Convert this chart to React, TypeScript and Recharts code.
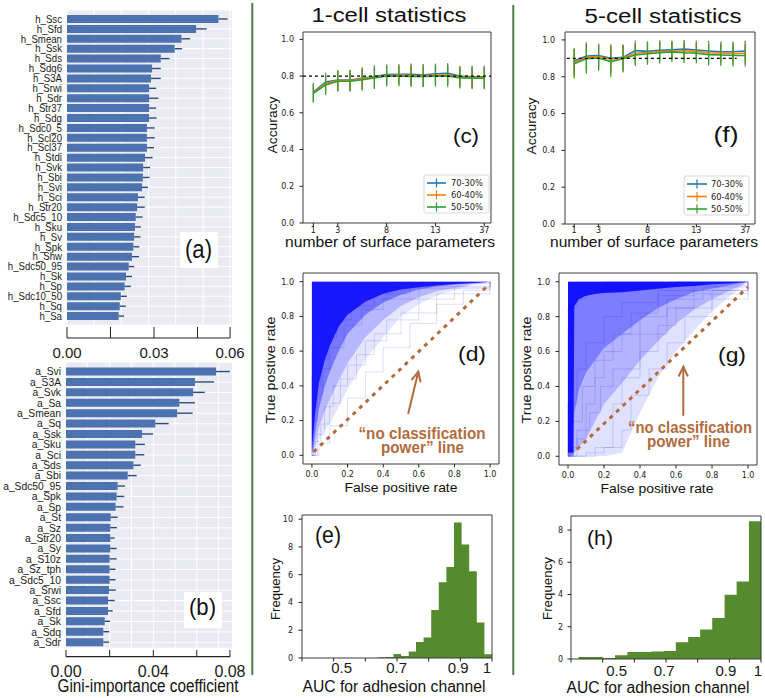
import React from 'react';
import {
  BarChart, Bar, XAxis, YAxis, CartesianGrid, ErrorBar, ComposedChart, Line, Area,
  ReferenceLine, ReferenceArea,
} from 'recharts';

// ---------------- (a) height-channel Gini importance ----------------
const hNames = ['h_Ssc', 'h_Sfd', 'h_Smean', 'h_Ssk', 'h_Sds', 'h_Sdq6', 'h_S3A', 'h_Srwi', 'h_Sdr', 'h_Str37', 'h_Sdg', 'h_Sdc0_5', 'h_Scl20', 'h_Scl37', 'h_Stdi', 'h_Svk', 'h_Sbi', 'h_Svi', 'h_Sci', 'h_Str20', 'h_Sdc5_10', 'h_Sku', 'h_Sv', 'h_Spk', 'h_Shw', 'h_Sdc50_95', 'h_Sk', 'h_Sp', 'h_Sdc10_50', 'h_Sq', 'h_Sa'];
const hGini = [0.0557, 0.0475, 0.0421, 0.0396, 0.0345, 0.0313, 0.0309, 0.0302, 0.0302, 0.0302, 0.0302, 0.0294, 0.0294, 0.0294, 0.0287, 0.028, 0.0279, 0.0276, 0.0261, 0.0258, 0.0253, 0.025, 0.0247, 0.0244, 0.0239, 0.0227, 0.0217, 0.0212, 0.0198, 0.0194, 0.019];
const hErr = [0.0034, 0.0039, 0.0032, 0.0027, 0.0032, 0.0032, 0.0036, 0.0026, 0.0034, 0.0026, 0.0028, 0.0029, 0.0029, 0.0026, 0.0028, 0.0026, 0.0025, 0.0022, 0.0025, 0.0028, 0.0025, 0.0022, 0.0023, 0.0022, 0.0026, 0.002, 0.0022, 0.0023, 0.0022, 0.0022, 0.002];
const giniTicksA = [0, 0.016, 0.032, 0.048, 0.06];
const giniLabelsA = ['0.00', '', '0.03', '', '0.06'];
const gridA = [0, 0.01, 0.02, 0.03, 0.04, 0.05, 0.06];

// ---------------- (b) adhesion-channel Gini importance ----------------
const aNames = ['a_Svi', 'a_S3A', 'a_Svk', 'a_Sa', 'a_Smean', 'a_Sq', 'a_Ssk', 'a_Sku', 'a_Sci', 'a_Sds', 'a_Sbi', 'a_Sdc50_95', 'a_Spk', 'a_Sp', 'a_St', 'a_Sz', 'a_Str20', 'a_Sy', 'a_S10z', 'a_Sz_tph', 'a_Sdc5_10', 'a_Srwi', 'a_Ssc', 'a_Sfd', 'a_Sk', 'a_Sdq', 'a_Sdr'];
const aGini = [0.0732, 0.0629, 0.062, 0.0553, 0.0542, 0.0436, 0.0371, 0.0338, 0.0338, 0.0329, 0.0301, 0.0252, 0.0247, 0.0242, 0.0218, 0.0216, 0.0216, 0.0216, 0.0213, 0.0213, 0.0213, 0.021, 0.0205, 0.0205, 0.0189, 0.0182, 0.0182];
const aErr = [0.0068, 0.0093, 0.0057, 0.0076, 0.0076, 0.0065, 0.0054, 0.0047, 0.0044, 0.0036, 0.0044, 0.0036, 0.0037, 0.0039, 0.0034, 0.0033, 0.0021, 0.0031, 0.0034, 0.0029, 0.0029, 0.0033, 0.0033, 0.0023, 0.0026, 0.0029, 0.0029];
const giniTicksB = [0, 0.0213, 0.0426, 0.0638, 0.08];
const giniLabelsB = ['0.00', '', '0.04', '', '0.08'];
const gridB = [0, 0.0106, 0.0213, 0.0319, 0.0426, 0.0532, 0.0638, 0.0745];

// ---------------- (c)/(f) accuracy vs number of parameters ----------------
const paramIdx = [0, 1, 2, 3, 4, 5, 6, 7, 8, 9, 10, 11, 12, 13, 14];
const paramTickIdx = [0, 2, 6, 10, 14];
const paramTickLabels = ['1', '3', '8', '13', '37'];
const accTicks = [0, 0.2, 0.4, 0.6, 0.8, 1.0];
const accSeriesNames = ['70-30%', '60-40%', '50-50%'];
const accColors = ['#1f77b4', '#ff7f0e', '#2ca02c'];

const acc1_7030 = [0.713, 0.768, 0.778, 0.779, 0.788, 0.798, 0.808, 0.809, 0.809, 0.806, 0.813, 0.815, 0.8, 0.796, 0.796];
const acc1_6040 = [0.708, 0.76, 0.775, 0.775, 0.785, 0.795, 0.803, 0.806, 0.803, 0.802, 0.805, 0.806, 0.795, 0.792, 0.792];
const acc1_5050 = [0.706, 0.752, 0.772, 0.772, 0.78, 0.79, 0.8, 0.8, 0.798, 0.798, 0.8, 0.8, 0.79, 0.788, 0.788];
const err1_7030 = [0.05, 0.05, 0.055, 0.055, 0.06, 0.06, 0.055, 0.055, 0.06, 0.06, 0.055, 0.055, 0.055, 0.06, 0.06];
const err1_6040 = [0.05, 0.052, 0.055, 0.056, 0.058, 0.058, 0.055, 0.056, 0.058, 0.058, 0.056, 0.056, 0.057, 0.058, 0.058];
const err1_5050 = [0.05, 0.055, 0.057, 0.058, 0.058, 0.06, 0.057, 0.055, 0.057, 0.058, 0.057, 0.058, 0.058, 0.06, 0.06];

const acc5_7030 = [0.885, 0.912, 0.915, 0.9, 0.905, 0.942, 0.938, 0.943, 0.946, 0.95, 0.945, 0.94, 0.936, 0.936, 0.94];
const acc5_6040 = [0.877, 0.905, 0.91, 0.895, 0.902, 0.928, 0.932, 0.937, 0.94, 0.94, 0.938, 0.93, 0.928, 0.925, 0.928];
const acc5_5050 = [0.87, 0.898, 0.902, 0.882, 0.898, 0.918, 0.925, 0.93, 0.935, 0.93, 0.928, 0.92, 0.918, 0.915, 0.915];
const err5_7030 = [0.07, 0.075, 0.065, 0.075, 0.07, 0.055, 0.055, 0.055, 0.05, 0.05, 0.05, 0.055, 0.055, 0.055, 0.055];
const err5_6040 = [0.075, 0.078, 0.068, 0.08, 0.072, 0.058, 0.058, 0.056, 0.052, 0.052, 0.053, 0.056, 0.058, 0.058, 0.058];
const err5_5050 = [0.08, 0.08, 0.07, 0.085, 0.075, 0.06, 0.06, 0.058, 0.055, 0.055, 0.055, 0.058, 0.06, 0.06, 0.06];

// ---------------- (d)/(g) ROC clouds (density bands: lower tpr edge per fpr) ----------------
const rocTicks = [0, 0.2, 0.4, 0.6, 0.8, 1.0];
const rocGridD = [0, 0.005, 0.01, 0.02, 0.04, 0.07, 0.1, 0.15, 0.2, 0.3, 0.4, 0.5, 0.6, 0.7, 0.8, 0.9, 1.0];
const rocDenseD = [0.03, 0.1, 0.15, 0.26, 0.42, 0.54, 0.63, 0.74, 0.81, 0.885, 0.93, 0.955, 0.968, 0.978, 0.987, 0.993, 1.0];
const rocMidD = [0.01, 0.04, 0.07, 0.14, 0.27, 0.39, 0.48, 0.6, 0.7, 0.81, 0.88, 0.925, 0.955, 0.972, 0.982, 0.992, 1.0];
const rocSoftD = [0.005, 0.02, 0.04, 0.08, 0.16, 0.25, 0.32, 0.43, 0.53, 0.68, 0.78, 0.86, 0.91, 0.945, 0.965, 0.985, 1.0];
const rocLightD = [0, 0.01, 0.02, 0.05, 0.09, 0.14, 0.18, 0.28, 0.38, 0.55, 0.68, 0.8, 0.87, 0.92, 0.95, 0.98, 1.0];
const rocCurvesD = [
  [[0, 0], [0, 0.45], [0.01, 0.6], [0.02, 0.7], [0.04, 0.8], [0.08, 0.88], [0.15, 0.94], [0.3, 0.97], [0.5, 0.99], [1, 1]],
  [[0, 0], [0.01, 0.2], [0.03, 0.35], [0.06, 0.5], [0.1, 0.62], [0.18, 0.75], [0.28, 0.84], [0.4, 0.9], [0.6, 0.96], [1, 1]],
  [[0, 0], [0.02, 0.08], [0.05, 0.18], [0.1, 0.3], [0.16, 0.44], [0.25, 0.58], [0.35, 0.7], [0.5, 0.82], [0.7, 0.93], [1, 1]],
  [[0, 0], [0.04, 0.07], [0.1, 0.17], [0.2, 0.33], [0.3, 0.48], [0.4, 0.62], [0.55, 0.76], [0.7, 0.87], [0.85, 0.95], [1, 1]],
  [[0, 0], [0, 0.6], [0.005, 0.7], [0.01, 0.78], [0.03, 0.86], [0.06, 0.92], [0.12, 0.96], [0.25, 0.98], [0.45, 0.995], [1, 1]],
  [[0, 0], [0.01, 0.25], [0.02, 0.4], [0.05, 0.55], [0.09, 0.68], [0.14, 0.78], [0.22, 0.86], [0.35, 0.93], [0.55, 0.97], [1, 1]],
  [[0, 0], [0.03, 0.12], [0.07, 0.28], [0.12, 0.4], [0.2, 0.52], [0.3, 0.66], [0.42, 0.78], [0.6, 0.9], [0.8, 0.97], [1, 1]],
];
const rocGridG = [0, 0.01, 0.03, 0.035, 0.06, 0.1, 0.15, 0.2, 0.3, 0.4, 0.5, 0.6, 0.7, 0.8, 0.9, 1.0];
const rocDenseG = [0.02, 0.02, 0.02, 0.86, 0.9, 0.92, 0.93, 0.935, 0.94, 0.95, 0.96, 0.97, 0.975, 0.985, 0.99, 1.0];
const rocMidG = [0, 0, 0.01, 0.25, 0.38, 0.48, 0.55, 0.62, 0.7, 0.78, 0.85, 0.9, 0.94, 0.96, 0.98, 1.0];
const rocSoftG = [0, 0, 0, 0.02, 0.05, 0.1, 0.2, 0.3, 0.42, 0.55, 0.66, 0.76, 0.84, 0.9, 0.95, 1.0];
const rocLightG = [0, 0, 0, 0, 0, 0, 0, 0, 0.02, 0.25, 0.45, 0.6, 0.72, 0.83, 0.92, 1.0];
const rocCurvesG = [
  [[0, 0], [0, 0.7], [0.02, 0.85], [0.05, 0.9], [0.1, 0.95], [0.3, 0.98], [0.6, 1], [1, 1]],
  [[0, 0], [0.05, 0.1], [0.1, 0.3], [0.15, 0.45], [0.2, 0.6], [0.3, 0.7], [0.4, 0.8], [0.55, 0.9], [0.75, 0.97], [1, 1]],
  [[0, 0], [0.1, 0.02], [0.2, 0.05], [0.3, 0.15], [0.35, 0.35], [0.45, 0.5], [0.55, 0.65], [0.65, 0.8], [0.8, 0.9], [1, 1]],
  [[0, 0], [0, 0.3], [0.05, 0.5], [0.1, 0.65], [0.2, 0.8], [0.3, 0.88], [0.5, 0.95], [1, 1]],
  [[0, 0], [0.02, 0.2], [0.08, 0.4], [0.15, 0.55], [0.25, 0.7], [0.35, 0.82], [0.5, 0.92], [0.7, 0.98], [1, 1]],
  [[0, 0], [0.15, 0.05], [0.25, 0.3], [0.3, 0.45], [0.4, 0.6], [0.5, 0.75], [0.6, 0.85], [0.8, 0.95], [1, 1]],
  [[0, 0], [0, 0.85], [0.01, 0.95], [0.05, 0.98], [0.2, 1], [1, 1]],
  [[0, 0], [0.03, 0.05], [0.05, 0.15], [0.12, 0.25], [0.18, 0.4], [0.25, 0.5], [0.4, 0.7], [0.55, 0.85], [0.7, 0.93], [1, 1]],
];

// ---------------- (e)/(h) AUC histograms ----------------
const histTickMarks = [0.4, 0.5, 0.6, 0.7, 0.8, 0.9, 1.0];
const aucLabels = ['0.5', '0.7', '0.9', '1'];
const eLabelPos = [0.525, 0.699, 0.893, 0.984];
const hLabelPos = [0.544, 0.694, 0.889, 0.99];
const aucEdges1 = [0.641, 0.665, 0.689, 0.713, 0.737, 0.76, 0.784, 0.808, 0.832, 0.856, 0.88, 0.904, 0.928, 0.952, 0.976, 1.0];
const aucFreq1 = [0.05, 0.07, 0.29, 0.14, 0.46, 1.16, 1.47, 3.45, 5.45, 6.55, 9.76, 8.17, 6.24, 2.55, 0.27];
const aucEdges5 = [0.424, 0.462, 0.501, 0.539, 0.578, 0.616, 0.654, 0.693, 0.731, 0.77, 0.808, 0.846, 0.885, 0.923, 0.962, 1.0];
const aucFreq5 = [0.12, 0.12, 0.06, 0.23, 0.44, 0.44, 0.46, 0.5, 1.04, 1.37, 1.83, 2.54, 3.99, 4.8, 8.55];
const freqTicks1 = [0, 2, 4, 6, 8, 10];
const freqTicks5 = [0, 2, 4, 6, 8];

// ---------------- styling ----------------
const FONT = "'Liberation Sans', Arial, Helvetica, sans-serif";
const TFONT = "'DejaVu Sans', Verdana, sans-serif";
const BAR = '#4c72b0';
const ERRC = '#2e4a7d';
const ROCBLUE = '#0000ff';
const HISTGREEN = '#558a2d';
const ANNO = '#b26b3d';
const SEP = '#4e7f48';
const FRAME = '#3a3a3a';

type TickCfg = {
  side: 'b' | 'l';
  marks: any[] | null;
  labelOf: (v: any) => string | null;
  markFrom: number;
  markLen: number;
  off: number;
  size: number;
  family: string;
  sx?: number;
};

function makeTick(c: TickCfg) {
  return function TickEl(p: any) {
    const x = Number(p.x);
    const y = Number(p.y);
    const v = p.payload ? p.payload.value : undefined;
    const lab = c.labelOf(v);
    const hasMark = c.marks ? c.marks.some((m) => Math.abs(Number(m) - Number(v)) < 1e-9) : false;
    if (c.side === 'b') {
      return (
        <g>
          {hasMark && <line x1={x} x2={x} y1={y + c.markFrom} y2={y + c.markFrom + c.markLen} stroke="#222" strokeWidth={1} />}
          {lab ? (
            <text x={x} y={y + c.off} textAnchor="middle" fontSize={c.size} fontFamily={c.family} fill="#1a1a1a">{lab}</text>
          ) : null}
        </g>
      );
    }
    return (
      <g>
        {hasMark && <line x1={x - c.markLen} x2={x} y1={y} y2={y} stroke="#222" strokeWidth={1} />}
        {lab ? (
          <text transform={`translate(${x - c.off},${y + c.size * 0.36}) scale(${c.sx || 1},1)`} x={0} y={0} textAnchor="end" fontSize={c.size} fontFamily={c.family} fill="#1a1a1a">{lab}</text>
        ) : null}
      </g>
    );
  };
}

const idxLabel = (arr: number[], labels: string[]) => (v: any) => {
  const k = arr.findIndex((a) => Math.abs(a - Number(v)) < 1e-9);
  return k >= 0 && labels[k] ? labels[k] : null;
};
const fix1 = (v: any) => Number(v).toFixed(1);
const intLab = (v: any) => String(Math.round(Number(v)));

const tickAX = makeTick({ side: 'b', marks: giniTicksA, labelOf: idxLabel(giniTicksA, giniLabelsA), markFrom: 2, markLen: 11, off: 33, size: 15, family: FONT });
const tickAY = makeTick({ side: 'l', marks: null, labelOf: (v) => String(v), markFrom: 0, markLen: 0, off: 5, size: 10.5, family: FONT, sx: 0.92 });
const tickBX = makeTick({ side: 'b', marks: giniTicksB, labelOf: idxLabel(giniTicksB, giniLabelsB), markFrom: 2, markLen: 6.7, off: 29, size: 16, family: FONT });
const tickBY = makeTick({ side: 'l', marks: null, labelOf: (v) => String(v), markFrom: 0, markLen: 0, off: 5, size: 10.3, family: FONT });

const tickCX = makeTick({ side: 'b', marks: paramTickIdx, labelOf: idxLabel(paramTickIdx, paramTickLabels), markFrom: 0, markLen: 3.5, off: 9.5, size: 8, family: TFONT });
const tickFX = makeTick({ side: 'b', marks: paramTickIdx, labelOf: idxLabel(paramTickIdx, paramTickLabels), markFrom: 0, markLen: 3.5, off: 9, size: 8, family: TFONT });
const tickCY = makeTick({ side: 'l', marks: accTicks, labelOf: fix1, markFrom: 0, markLen: 3.5, off: 9, size: 8, family: TFONT });
const tickFY = makeTick({ side: 'l', marks: accTicks, labelOf: fix1, markFrom: 0, markLen: 3.5, off: 10, size: 8, family: TFONT });

const tickRX = makeTick({ side: 'b', marks: rocTicks, labelOf: fix1, markFrom: 0, markLen: 3.5, off: 13, size: 8, family: TFONT });
const tickRY = makeTick({ side: 'l', marks: rocTicks, labelOf: fix1, markFrom: 0, markLen: 3.5, off: 9, size: 8, family: TFONT });

const tickEX = makeTick({ side: 'b', marks: histTickMarks, labelOf: idxLabel(eLabelPos, aucLabels), markFrom: 0, markLen: 3.5, off: 15, size: 15, family: FONT });
const tickHX = makeTick({ side: 'b', marks: histTickMarks, labelOf: idxLabel(hLabelPos, aucLabels), markFrom: 0, markLen: 3.5, off: 17, size: 15, family: FONT });
const tickEY = makeTick({ side: 'l', marks: freqTicks1, labelOf: intLab, markFrom: 0, markLen: 3.5, off: 9, size: 8, family: TFONT });
const tickHY = makeTick({ side: 'l', marks: freqTicks5, labelOf: intLab, markFrom: 0, markLen: 3.5, off: 8, size: 8, family: TFONT });

const noLine = { axisLine: false, tickLine: false, tickSize: 0, tickMargin: 0, interval: 0 as const };

type TProps = { x: number; y: number; s: number; w?: number; a?: 'start' | 'middle' | 'end'; b?: boolean; c?: string; r?: boolean; children: any };
const T = (p: TProps) => (
  <text
    x={p.x}
    y={p.y}
    fontSize={p.s}
    textAnchor={p.a || 'middle'}
    fontWeight={p.b ? 700 : 400}
    fill={p.c || '#111'}
    fontFamily={FONT}
    textLength={p.w}
    lengthAdjust={p.w ? 'spacingAndGlyphs' : undefined}
    transform={p.r ? `rotate(-90 ${p.x} ${p.y})` : undefined}
  >
    {p.children}
  </text>
);

function Arrow({ x1, y1, x2, y2 }: { x1: number; y1: number; x2: number; y2: number }) {
  const ang = Math.atan2(y2 - y1, x2 - x1);
  const L = 10;
  const a1 = ang + Math.PI - 0.45;
  const a2 = ang + Math.PI + 0.45;
  return (
    <g stroke={ANNO} strokeWidth={2} fill="none" strokeLinecap="round">
      <line x1={x1} y1={y1} x2={x2} y2={y2} />
      <polyline points={`${x2 + L * Math.cos(a1)},${y2 + L * Math.sin(a1)} ${x2},${y2} ${x2 + L * Math.cos(a2)},${y2 + L * Math.sin(a2)}`} />
    </g>
  );
}

function LegendBox({ x, y, w, h, rows, lx1, lx2, tx }: { x: number; y: number; w: number; h: number; rows: number[]; lx1: number; lx2: number; tx: number }) {
  return (
    <g>
      <rect x={x} y={y} width={w} height={h} rx={2} fill="#fff" fillOpacity={0.85} stroke="#cfcfcf" strokeWidth={0.8} />
      {accSeriesNames.map((n, k) => (
        <g key={n}>
          <line x1={lx1} x2={lx2} y1={rows[k]} y2={rows[k]} stroke={accColors[k]} strokeWidth={1.6} />
          <line x1={(lx1 + lx2) / 2} x2={(lx1 + lx2) / 2} y1={rows[k] - 4.5} y2={rows[k] + 4.5} stroke={accColors[k]} strokeWidth={1.2} />
          <text x={tx} y={rows[k] + 3} fontSize={8.3} fontFamily={TFONT} fill="#222">{n}</text>
        </g>
      ))}
    </g>
  );
}

function AccChart({ rows, domainX, dashSeg, tickX, tickY, width, margin, yWidth, xHeight }: any) {
  const dom: [number, number] = domainX;
  return (
    <ComposedChart width={width} height={250} data={rows} margin={margin}>
      <XAxis dataKey="i" type="number" domain={dom} ticks={paramTickIdx} height={xHeight} {...noLine} tick={tickX} allowDataOverflow />
      <YAxis type="number" domain={[0, rows.yMax]} ticks={accTicks} width={yWidth} {...noLine} tick={tickY} allowDataOverflow />
      <ReferenceArea x1={dom[0]} x2={dom[1]} y1={0} y2={rows.yMax} fill="none" stroke={FRAME} strokeWidth={1} ifOverflow="visible" />
      {[0, 1, 2].map((k) => (
        <Line key={k} type="linear" dataKey={`s${k}`} stroke={accColors[k]} strokeWidth={1.6} dot={false} isAnimationActive={false}>
          <ErrorBar dataKey={`e${k}`} direction="y" width={0} stroke={accColors[k]} strokeWidth={1.2} isAnimationActive={false} />
        </Line>
      ))}
      <ReferenceLine segment={dashSeg} stroke="#000" strokeWidth={1.3} strokeDasharray="3 3" ifOverflow="visible" />
    </ComposedChart>
  );
}

function RocChart({ grid, dense, mid, soft, light, curves, width, margin, yWidth, xHeight, diag, op }: any) {
  const rows = grid.map((x: number, k: number) => ({ fpr: x, d: [dense[k], 1], m: [mid[k], 1], s: [soft[k], 1], l: [light[k], 1] }));
  return (
    <ComposedChart width={width} height={225} data={rows} margin={margin}>
      <XAxis dataKey="fpr" type="number" domain={[-0.05, 1.05]} ticks={rocTicks} height={xHeight} {...noLine} tick={tickRX} allowDataOverflow />
      <YAxis type="number" domain={[-0.05, 1.05]} ticks={rocTicks} width={yWidth} {...noLine} tick={tickRY} allowDataOverflow />
      <Area type="linear" dataKey="l" stroke="none" fill={ROCBLUE} fillOpacity={op[0]} isAnimationActive={false} />
      <Area type="linear" dataKey="s" stroke="none" fill={ROCBLUE} fillOpacity={op[1]} isAnimationActive={false} />
      <Area type="linear" dataKey="m" stroke="none" fill={ROCBLUE} fillOpacity={op[2]} isAnimationActive={false} />
      <Area type="linear" dataKey="d" stroke="none" fill={ROCBLUE} fillOpacity={op[3]} isAnimationActive={false} />
      {curves.map((c: number[][], k: number) => (
        <Line key={k} data={c.map((p) => ({ fpr: p[0], tpr: p[1] }))} dataKey="tpr" type="stepAfter" stroke={ROCBLUE} strokeOpacity={0.2} strokeWidth={0.7} dot={false} isAnimationActive={false} />
      ))}
      <ReferenceLine segment={diag} stroke={ANNO} strokeWidth={3} strokeDasharray="4 5" ifOverflow="visible" />
      <ReferenceArea x1={-0.05} x2={1.05} y1={-0.05} y2={1.05} fill="none" stroke={FRAME} strokeWidth={1} ifOverflow="visible" />
    </ComposedChart>
  );
}

function HistChart({ edges, freq, yMax, yTicks, tickX, tickY, width, margin, yWidth, xHeight, labelPos }: any) {
  const rows = edges.map((x: number, k: number) => ({ x, f: k < freq.length ? freq[k] : freq[freq.length - 1] }));
  const ticks = [...histTickMarks, ...labelPos];
  return (
    <ComposedChart width={width} height={198} data={rows} margin={margin}>
      <XAxis dataKey="x" type="number" domain={[0.4, 1.0]} ticks={ticks} height={xHeight} {...noLine} tick={tickX} allowDataOverflow />
      <YAxis type="number" domain={[0, yMax]} ticks={yTicks} width={yWidth} {...noLine} tick={tickY} allowDataOverflow />
      <Area type="stepAfter" dataKey="f" stroke="none" fill={HISTGREEN} fillOpacity={1} isAnimationActive={false} />
      <ReferenceArea x1={0.4} x2={1.0} y1={0} y2={yMax} fill="none" stroke={FRAME} strokeWidth={1} ifOverflow="visible" />
    </ComposedChart>
  );
}

export default function App() {
  const rowsA = hNames.map((n, i) => ({ name: n, v: hGini[i], e: [0, hErr[i]] }));
  const rowsB = aNames.map((n, i) => ({ name: n, v: aGini[i], e: [0, aErr[i]] }));
  const rowsC: any = paramIdx.map((i, k) => ({
    i, s0: acc1_7030[k], s1: acc1_6040[k], s2: acc1_5050[k], e0: err1_7030[k], e1: err1_6040[k], e2: err1_5050[k],
  }));
  rowsC.yMax = 1.04;
  const rowsF: any = paramIdx.map((i, k) => ({
    i, s0: acc5_7030[k], s1: acc5_6040[k], s2: acc5_5050[k], e0: err5_7030[k], e1: err5_6040[k], e2: err5_5050[k],
  }));
  rowsF.yMax = 1.043;

  return (
    <div style={{ position: 'absolute', left: 0, top: 0, width: 765, height: 698, background: '#fff', overflow: 'hidden' }}>
      {/* (a) */}
      <div style={{ position: 'absolute', left: 0, top: 0 }}>
        <BarChart width={250} height={360} layout="vertical" data={rowsA} margin={{ top: 10, right: 18, left: 0, bottom: 0 }}>
          <CartesianGrid fill="#eaeaf2" stroke="#ffffff" strokeWidth={1} verticalValues={gridA} />
          <XAxis type="number" domain={[0, 0.0607]} ticks={giniTicksA} height={35} {...noLine} tick={tickAX} allowDataOverflow />
          <YAxis type="category" dataKey="name" width={67} {...noLine} tick={tickAY} padding={{ top: 4, bottom: 4 }} />
          <Bar dataKey="v" fill={BAR} isAnimationActive={false}>
            <ErrorBar dataKey="e" direction="x" width={0} stroke={ERRC} strokeWidth={1.4} isAnimationActive={false} />
          </Bar>
        </BarChart>
      </div>
      {/* (b) */}
      <div style={{ position: 'absolute', left: 0, top: 330 }}>
        <BarChart width={250} height={368} layout="vertical" data={rowsB} margin={{ top: 32, right: 18, left: 0, bottom: 0 }}>
          <CartesianGrid fill="#eaeaf2" stroke="#ffffff" strokeWidth={1} verticalValues={gridB} />
          <XAxis type="number" domain={[0, 0.081]} ticks={giniTicksB} height={50} {...noLine} tick={tickBX} allowDataOverflow />
          <YAxis type="category" dataKey="name" width={66} {...noLine} tick={tickBY} padding={{ top: 4.5, bottom: 0.5 }} />
          <Bar dataKey="v" fill={BAR} isAnimationActive={false}>
            <ErrorBar dataKey="e" direction="x" width={0} stroke={ERRC} strokeWidth={1.4} isAnimationActive={false} />
          </Bar>
        </BarChart>
      </div>
      {/* (c) */}
      <div style={{ position: 'absolute', left: 260, top: 0 }}>
        <AccChart rows={rowsC} domainX={[-0.85, 14.55]} dashSeg={[{ x: -0.85, y: 0.8 }, { x: 14.55, y: 0.8 }]} tickX={tickCX} tickY={tickCY}
          width={240} margin={{ top: 32, right: 9, left: 0, bottom: 0 }} yWidth={43} xHeight={27} />
      </div>
      {/* (f) */}
      <div style={{ position: 'absolute', left: 520, top: 0 }}>
        <AccChart rows={rowsF} domainX={[-0.75, 14.8]} dashSeg={[{ x: -0.6, y: 0.9 }, { x: 13.3, y: 0.9 }]} tickX={tickFX} tickY={tickFY}
          width={245} margin={{ top: 32, right: 10, left: 0, bottom: 0 }} yWidth={45} xHeight={26} />
      </div>
      {/* (d) */}
      <div style={{ position: 'absolute', left: 260, top: 260 }}>
        <RocChart grid={rocGridD} dense={rocDenseD} mid={rocMidD} soft={rocSoftD} light={rocLightD} curves={rocCurvesD}
          width={245} margin={{ top: 13, right: 6, left: 0, bottom: 0 }} yWidth={43} xHeight={21}
          diag={[{ x: 0.01, y: 0.02 }, { x: 0.985, y: 0.975 }]} op={[0.1, 0.2, 0.35, 0.8]} />
      </div>
      {/* (g) */}
      <div style={{ position: 'absolute', left: 520, top: 260 }}>
        <RocChart grid={rocGridG} dense={rocDenseG} mid={rocMidG} soft={rocSoftG} light={rocLightG} curves={rocCurvesG}
          width={245} margin={{ top: 13, right: 8, left: 0, bottom: 0 }} yWidth={39} xHeight={20}
          diag={[{ x: 0.05, y: 0.04 }, { x: 1.0, y: 0.97 }]} op={[0.12, 0.2, 0.3, 0.85]} />
      </div>
      {/* (e) */}
      <div style={{ position: 'absolute', left: 260, top: 500 }}>
        <HistChart edges={aucEdges1} freq={aucFreq1} yMax={10.3} yTicks={freqTicks1} tickX={tickEX} tickY={tickEY}
          width={240} margin={{ top: 15, right: 8, left: 0, bottom: 0 }} yWidth={42} xHeight={40} labelPos={eLabelPos} />
      </div>
      {/* (h) */}
      <div style={{ position: 'absolute', left: 520, top: 500 }}>
        <HistChart edges={aucEdges5} freq={aucFreq5} yMax={8.87} yTicks={freqTicks5} tickX={tickHX} tickY={tickHY}
          width={245} margin={{ top: 16, right: 4, left: 0, bottom: 0 }} yWidth={51} xHeight={39} labelPos={hLabelPos} />
      </div>

      {/* overlay: separators, titles, labels, annotations */}
      <svg width={765} height={698} style={{ position: 'absolute', left: 0, top: 0, pointerEvents: 'none' }}>
        <line x1={252.3} y1={3} x2={252.3} y2={675} stroke={SEP} strokeWidth={2} />
        <line x1={513.3} y1={5} x2={513.3} y2={675} stroke={SEP} strokeWidth={2} />

        {/* (a)/(b) axis lines */}
        <line x1={67} y1={338} x2={230} y2={338} stroke="#222" strokeWidth={1.2} />
        <line x1={66} y1={656.7} x2={230} y2={656.7} stroke="#222" strokeWidth={1.2} />
        <rect x={180} y={232} width={38} height={36} fill="#fff" />
        <T x={198.5} y={257.5} s={26} w={27}>(a)</T>
        <rect x={184} y={592} width={38} height={36} fill="#fff" />
        <T x={202.5} y={615} s={24.5} w={27}>(b)</T>
        <T x={148} y={692} s={18} w={181}>Gini-importance coefficient</T>

        {/* titles */}
        <T x={389} y={22} s={20} w={155}>1-cell statistics</T>
        <T x={663} y={23} s={20} w={157}>5-cell statistics</T>

        {/* (c) / (f) */}
        <T x={277} y={125} s={12.5} w={57} r>Accuracy</T>
        <T x={536} y={126} s={12.5} w={57} r>Accuracy</T>
        <T x={390} y={246.5} s={14.5} w={210}>number of surface parameters</T>
        <T x={654} y={246.5} s={14.5} w={208}>number of surface parameters</T>
        <T x={466} y={142.5} s={20} w={26}>(c)</T>
        <T x={726} y={142} s={22} w={25}>(f)</T>
        <LegendBox x={424} y={175} w={65} h={38} rows={[183, 195, 207]} lx1={427} lx2={446} tx={451} />
        <LegendBox x={684} y={176} w={65} h={39} rows={[184, 196.5, 209]} lx1={687} lx2={707} tx={711} />

        {/* (d) / (g) */}
        <T x={275} y={370} s={13.5} w={107} r>True postive rate</T>
        <T x={531} y={370} s={13.5} w={107} r>True postive rate</T>
        <T x={401} y={492} s={13.5} w={113}>False positive rate</T>
        <T x={657} y={493} s={13.5} w={113}>False positive rate</T>
        <T x={472} y={361} s={21} w={28}>(d)</T>
        <T x={732} y={362} s={21} w={28}>(g)</T>
        <T x={422} y={439} s={17} w={127} b c={ANNO}>“no classification</T>
        <T x={422.5} y={452.5} s={17} w={83} b c={ANNO}>power” line</T>
        <T x={690} y={433} s={17} w={124} b c={ANNO}>“no classification</T>
        <T x={688.5} y={446.5} s={17} w={83} b c={ANNO}>power” line</T>
        <Arrow x1={408.3} y1={413.3} x2={418.3} y2={371.7} />
        <Arrow x1={683.3} y1={415} x2={683.3} y2={366.7} />

        {/* (e) / (h) */}
        <T x={280} y={589} s={13.5} w={62} r>Frequency</T>
        <T x={552} y={588.5} s={13.5} w={63} r>Frequency</T>
        <T x={394} y={691.5} s={16} w={183}>AUC for adhesion channel</T>
        <T x={658} y={693} s={16} w={183}>AUC for adhesion channel</T>
        <T x={328} y={543} s={24} w={26}>(e)</T>
        <T x={600} y={545} s={21} w={26}>(h)</T>
      </svg>
    </div>
  );
}
